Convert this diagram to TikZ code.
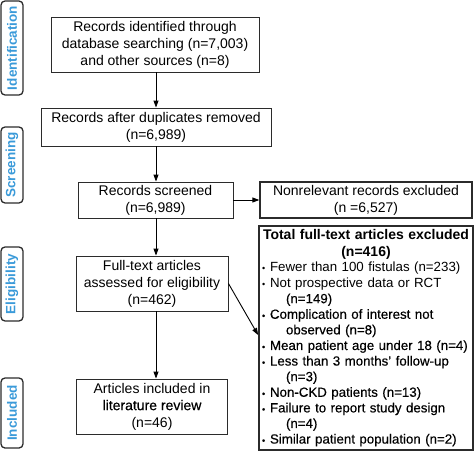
\documentclass[tikz,border=0pt]{standalone}
\usepackage{fontspec}
\setmainfont{Liberation Sans}
\newfontfamily\fbfont{Liberation Sans}[FakeBold=0.35]
\usetikzlibrary{arrows.meta,calc}
\definecolor{lblblue}{HTML}{3A9AD9}
\definecolor{edgec}{HTML}{2B2B2B}
\newcommand{\itm}[1]{\makebox[8pt][l]{\fontsize{9}{9}\selectfont\textbullet}#1}
\newcommand{\cont}[1]{\makebox[24pt]{}#1}
\begin{document}
\begin{tikzpicture}[x=1pt,y=-1pt,
  box/.style={draw=edgec, line width=0.9pt, align=center, inner sep=0pt,
    font=\fontsize{14}{17}\selectfont},
  sidebox/.style={draw=edgec, line width=1.3pt, rounded corners=4pt, rotate=90,
    minimum height=22pt, inner sep=0pt, text=lblblue,
    font=\fontsize{13.5}{16}\selectfont\bfseries},
  arr/.style={-{Triangle[length=7pt,width=5pt]}, line width=0.9pt, draw=black}
]
\useasboundingbox (0,0) rectangle (474,452);

% side labels
\node[sidebox, minimum width=94pt] (sid) at (12,48) {Identification};
\node[sidebox, minimum width=76pt] (sscr) at (12,165) {Screening};
\node[sidebox, minimum width=74pt] (sel) at (12,284) {Eligibility};
\node[sidebox, minimum width=70pt] (sinc) at (12,413) {Included};

% main boxes
\node[box, minimum width=208pt, minimum height=55pt] (b1) at (155,44.5)
  {Records identified through\\database searching (n=7,003)\\and other sources (n=8)};
\node[box, minimum width=230pt, minimum height=38pt] (b2) at (156,127)
  {Records after duplicates removed\\(n=6,989)};
\node[box, minimum width=155pt, minimum height=36pt] (b3) at (155.5,200)
  {Records screened\\(n=6,989)};
\node[box, minimum width=152pt, minimum height=55pt] (b4) at (152,283.5)
  {Full-text articles\\assessed for eligibility\\(n=462)};
\node[box, minimum width=151pt, minimum height=55pt] (b5) at (152,406.5)
  {Articles included in\\{\fbfont literature review}\\(n=46)};

\node[box, line width=1.3pt, minimum width=212pt, minimum height=36pt] (nr) at (366,200)
  {Nonrelevant records excluded\\(n =6,527)};

\node[box, line width=1.8pt, minimum width=214pt, minimum height=224pt,
  text width=208pt, align=left, font=\fontsize{13.3}{15.6}\selectfont] (ex) at (366,338)
  {\makebox[\linewidth]{\fontsize{14}{15.6}\selectfont\bfseries Total full-text articles excluded}\\[1pt]
   \makebox[\linewidth]{\fontsize{14}{15.6}\selectfont\bfseries (n=416)}\\
   \itm{Fewer than 100 fistulas (n=233)}\\
   \itm{Not prospective data or RCT}\\
   \cont{\fbfont (n=149)}\\
   \itm{Complication of interest not}\\
   \cont{observed (n=8)}\\
   \itm{Mean patient age under 18 (n=4)}\\
   \itm{Less than 3 months’ follow-up}\\
   \cont{(n=3)}\\
   \itm{Non-CKD patients (n=13)}\\
   \itm{{\fbfont Failure to report study design}}\\
   \cont{(n=4)}\\
   \itm{Similar patient population (n=2)}};

% connectors
\coordinate (ax) at (156,0);
\draw[arr] (b1.south -| ax) -- (b2.north -| ax);
\draw[arr] (b2.south -| ax) -- (b3.north -| ax);
\draw[arr] (b3.south -| ax) -- (b4.north -| ax);
\draw[arr] (b4.south -| ax) -- (b5.north -| ax);
\draw[arr] (b3.east) -- (nr.west);
\draw[arr] (b4.east) -- ([yshift=3pt]ex.west);
\end{tikzpicture}
\end{document}
